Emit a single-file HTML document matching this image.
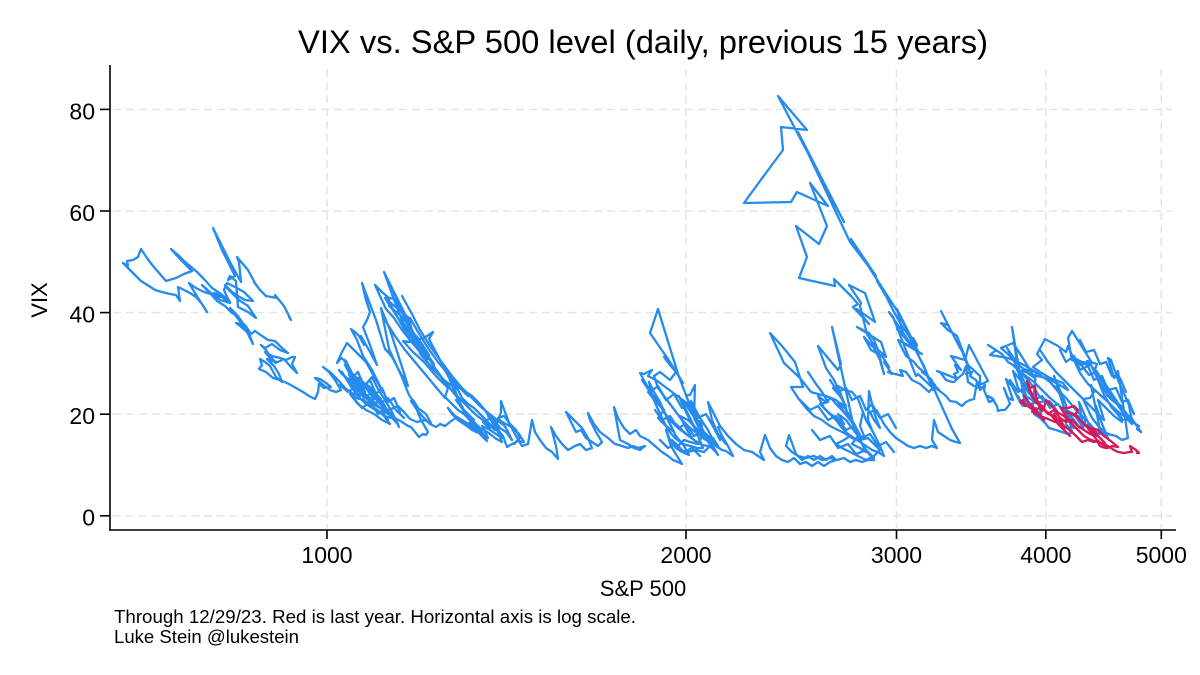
<!DOCTYPE html>
<html>
<head>
<meta charset="utf-8">
<style>
html,body{margin:0;padding:0;background:#fff;}
body{width:1200px;height:675px;overflow:hidden;}
svg{display:block;}
text{font-family:"Liberation Sans",Arial,Helvetica,sans-serif;fill:#000;}
</style>
</head>
<body>
<svg width="1200" height="675" viewBox="0 0 1200 675" xmlns="http://www.w3.org/2000/svg">
<rect width="1200" height="675" fill="#fff"/>
<!-- title -->
<text x="298" y="53" font-size="32" textLength="690" lengthAdjust="spacingAndGlyphs">VIX vs. S&amp;P 500 level (daily, previous 15 years)</text>

<!-- grid -->
<g stroke="#e6e6e6" stroke-width="1.6" stroke-dasharray="8,5" fill="none">
<line x1="113" y1="515.8" x2="1172" y2="515.8"/>
<line x1="113" y1="414.2" x2="1172" y2="414.2"/>
<line x1="113" y1="312.6" x2="1172" y2="312.6"/>
<line x1="113" y1="211" x2="1172" y2="211"/>
<line x1="113" y1="109.4" x2="1172" y2="109.4"/>
<line x1="327" y1="69" x2="327" y2="528"/>
<line x1="686" y1="69" x2="686" y2="528"/>
<line x1="896.5" y1="69" x2="896.5" y2="528"/>
<line x1="1045.8" y1="69" x2="1045.8" y2="528"/>
<line x1="1161.3" y1="69" x2="1161.3" y2="528"/>
</g>

<!-- axes -->
<g stroke="#000" stroke-width="1.6" fill="none">
<line x1="110" y1="65" x2="110" y2="530.8"/>
<line x1="109.2" y1="530" x2="1176" y2="530"/>
<line x1="100" y1="515.8" x2="110" y2="515.8"/>
<line x1="100" y1="414.2" x2="110" y2="414.2"/>
<line x1="100" y1="312.6" x2="110" y2="312.6"/>
<line x1="100" y1="211" x2="110" y2="211"/>
<line x1="100" y1="109.4" x2="110" y2="109.4"/>
<line x1="327" y1="530" x2="327" y2="539"/>
<line x1="686" y1="530" x2="686" y2="539"/>
<line x1="896.5" y1="530" x2="896.5" y2="539"/>
<line x1="1045.8" y1="530" x2="1045.8" y2="539"/>
<line x1="1161.3" y1="530" x2="1161.3" y2="539"/>
</g>

<!-- y tick labels -->
<g font-size="23" text-anchor="end">
<text x="95" y="525.5">0</text>
<text x="95" y="424">20</text>
<text x="95" y="322.4">40</text>
<text x="95" y="220.8">60</text>
<text x="95" y="119.4">80</text>
</g>
<!-- x tick labels -->
<g font-size="23" text-anchor="middle">
<text x="327" y="563">1000</text>
<text x="686" y="563">2000</text>
<text x="896.5" y="563">3000</text>
<text x="1045.8" y="563">4000</text>
<text x="1161.3" y="563">5000</text>
</g>

<!-- axis titles -->
<text x="643" y="596" font-size="22" text-anchor="middle">S&amp;P 500</text>
<text transform="translate(47,300) rotate(-90)" font-size="22" text-anchor="middle">VIX</text>

<!-- footnote -->
<text x="114" y="623" font-size="18" textLength="522" lengthAdjust="spacingAndGlyphs">Through 12/29/23. Red is last year. Horizontal axis is log scale.</text>
<text x="114" y="643" font-size="18" textLength="185" lengthAdjust="spacingAndGlyphs">Luke Stein @lukestein</text>

<!-- blue series -->
<g fill="none" stroke="#268bec" stroke-width="2.3" stroke-linejoin="round" stroke-linecap="round">
<polyline points="289,317 291,320 284,306 275,295 277,298 266,296 260,290 254,282 256,285 248,270 237,257 239,262 241,282 230,262 213,228 222,250 235,276 228,280 230,276 236,281 238,307 248,312 256,318 248,306 239,300 233,294 227,288 225,285 232,292 238,296 245,300 253,301 244,292 235,287 227,283 224,290 227,297 230,302 221,294 212,288 203,278 197,272 190,266 184,261 178,255 171,249 180,259 186,265 192,271 184,274 176,278 166,281 160,274 153,266 147,258 141,249 138,257 133,260 127,261 128,266 123,263 132,272 141,281 149,286 155,290 162,292 170,294 176,295 180,301 178,287 184,290 190,293 196,297 202,304 207,312 200,301 195,293 189,283 196,288 204,292 211,294 218,297 225,297 214,293 222,297 230,303 224,301 220,300 211,293 202,285 209,292 217,301 225,306 232,313 238,316 242,322 246,331 240,326 236,323 246,326 253,344 248,334 242,324 230,308 236,314 242,322 247,328 251,334 255,331"/>
<polyline points="255,331 262,336 268,340 275,341 282,348 288,353 280,350 272,344 265,348 261,345 266,350 270,356 276,363 270,358 265,352 272,356 280,358 286,360 292,357 295,357 292,364 297,373 290,366 284,359 278,362 272,361 267,359 274,366 279,374 282,382 276,377 270,366 265,362 260,359 262,365 259,369 266,372 273,378 280,380 289,384 296,388 303,392 309,396 315,399 318,392 319,384 324,388 331,387 326,383 320,379 315,378 322,384 330,390 336,392 341,390 335,380 329,372 323,367 330,372 338,380 345,388 352,393 360,397 356,391 355,386 348,379 342,374 339,370 346,378 352,388 358,396 366,404 374,409 368,398 360,386 352,375 344,360 348,368 350,378 356,388 362,394 370,398 380,400 376,393 371,390 378,398 382,407 385,417 383,410 382,406"/>
<polyline points="382,406 391,414 396,420 399,427 392,412 385,400 378,389 372,377 366,384 363,391 360,387 359,383 354,381 360,390 366,398 373,404 380,408 388,414 395,418 402,422 408,426 411,427 415,432 419,437 423,434 426,435 428,432 421,420 413,400 417,406 415,404 409,395 401,375 389,349 381,308 390,330 403,370 408,386 400,372 392,357 388,352 385,349 376,320 362,283 366,300 370,312 367,320 363,327 370,345 377,365 370,352 361,336 364,345 359,336 355,332 351,329 357,340 363,356 372,370 378,382 383,392 375,378 366,362 356,352 347,343 342,352 337,363 341,358 346,361 352,373 358,380 365,392 362,386 359,382 366,388 372,396 378,400 385,406 380,398 374,392 370,387 364,383 358,378 352,376 355,380 349,374 355,384 362,392 370,398 376,404 380,408 388,410 394,408 398,406 404,412 410,419 417,422 424,420 431,423 426,414 418,408 411,401 417,410 424,418 430,424 436,427 440,424 445,426"/>
<polyline points="445,426 450,422 457,417 462,422 467,426 472,430 479,433 474,425 468,418 460,405 455,390 450,378 445,367 450,380 455,392 460,405 466,414 472,424 478,432 484,438 487,441 482,432 476,428 470,425 462,420 455,416 448,408 452,414 458,420 464,424 470,428 476,432 480,428 472,420 465,412 457,397 440,376 421,355 420,353 404,312 384,272 396,305 409,338 398,318 385,298 398,309 409,318 412,331 404,315 394,299 386,297 398,318 411,335 420,345 429,355 418,338 408,328 400,320 413,340 421,350 428,359 418,340 410,327 400,315 389,306 389,298 382,292 375,285 386,309 394,318 402,330 410,340 420,352 432,368 444,380 456,389 448,376 440,360 429,339 433,332 424,338 416,340 410,342 403,341 413,352 424,362 436,376 448,388 445,397"/>
<polyline points="445,397 452,404 458,410 464,414 467,417 473,424 478,428 484,430 490,434 495,438 502,442 498,432 491,420 485,410 478,402 472,396 466,392 460,388 455,384 453,380 458,390 462,398 468,404 474,408 480,414 486,420 492,426 498,430 503,436 507,447 512,444 518,441 524,442 519,434 513,428 506,424 499,420 491,418 483,422 489,428 496,426 501,412 501,401 505,412 510,425 516,436 522,446 528,444 532,420 535,432 540,440 546,448 552,452 558,459 556,446 551,427 556,436 562,444 568,450 575,446 580,444 586,450 592,448 588,438 582,428 574,420 566,412 571,422 576,432 581,430 586,438 592,442 598,446 602,442 596,432 590,420 588,413 594,424 600,432 608,438 615,444 622,446 628,448 633,446 638,448 645,446"/>
<polyline points="645,446 640,450 634,448 628,444 620,440 614,407 618,418 624,428 630,434 636,430 640,436 648,440 655,446 662,452 668,456 673,460 678,462 682,464 677,456 671,446 666,430 670,440 676,448 682,452 689,455 684,446 676,436 668,420 660,402 654,392 649,382 652,395 656,405 662,418 668,430 675,438 683,444 690,446 697,448 703,448 698,436 691,420 684,406 679,396 684,408 690,420 696,430 703,438 709,442 703,430 695,416 688,405 684,402 692,414 700,426 706,436 712,448 716,452 718,455 714,448 708,440 702,428 701,420 697,424 702,430 708,436 714,440 718,446 713,438 706,438 695,419 678,374 658,309 650,333 670,362 683,383 676,372 664,357 670,365 676,372 670,380 660,372 654,376 658,388 664,396 670,404 676,412 682,420 690,428 698,434 705,438 714,442 708,430 700,418 691,401 695,412 688,404 680,398 672,392 664,386 656,380 648,376 652,370 644,374 640,373 646,384 652,394 658,402 664,412 670,420 678,428 686,434 694,440 702,445 708,446 712,448 706,438 700,430 694,418 695,385 690,395 686,395 692,410 698,422 704,432 710,440 716,446 722,450 726,451 730,454 733,456 728,446 722,436 718,427 722,436 726,444 718,434 712,420 708,402 714,414 720,426 728,436 736,444 744,450 752,452"/>
<polyline points="752,452 758,456 764,460 760,452 765,435 770,448 776,456 782,460 788,462 794,458 800,464 806,462 812,466 818,462 824,466 830,462 836,460 832,456 826,460 820,456 814,460 808,456 802,460 796,454 789,435 786,446 792,452 798,456 806,458 814,456 822,460 830,458 837,460 844,458 850,462 856,460 862,462 868,460 874,460"/>
<polyline points="874,460 866,450 860,440 854,428 832,327 841,364 838,370 818,346 826,368 834,380 840,392 845,405 848,417 842,410 836,404 831,398 826,402 818,396 824,408 830,414 836,420 842,428 848,434 854,438 860,442 866,446 872,450 878,452 884,456 880,446 873,432 866,420 858,399 852,392 845,390 838,386 833,388 840,396 846,406 838,402 844,412 850,420 856,428 859,433 852,420 845,408 836,400 826,396 818,394 811,392 800,378 784,363 770,333 782,346 795,362 803,387 791,387 798,398 806,408 814,416 822,420 830,426 838,430 846,434"/>
<polyline points="846,434 852,438 858,440 864,436 860,426 863,412 866,420 872,430 868,420 869,391 872,404 876,418 880,428 874,420 870,412 876,410 877,411 884,424 890,432 896,438 902,442 908,446 914,448 920,446 926,448 932,446 937,448 932,440 934,420 938,432 944,436 950,440 956,442 960,443 952,429"/>
<polyline points="952,429 934,389 918,374 916,376 893,317 889,312 912,346 897,329 919,353 900,315 892,303 851,239 876,276 850,242 798,132 844,222 778,96 807,130 781,127 783,150 760,181 744,203 791,202 797,192 828,206 810,183 827,226 819,244 796,226 807,257 799,278 835,286 834,279 851,296 858,304 853,307 869,324 857,309 861,312 875,322 865,293 849,285 861,303 860,306 867,334 875,347 873,345 886,357 881,342 857,327 869,333 874,340 878,350 884,374 880,360 874,348 864,337 871,350 882,356 889,367 884,362 892,374 888,372 895,374 903,376 900,370 906,372 912,380 920,384 929,392 935,385 928,378 928,376 897,309 903,333 907,341 917,345 913,338 918,352 922,354 905,344 910,346 898,340 906,356 914,362 918,367 927,375 922,372 931,379 934,385 939,390 936,388 930,384 941,392 946,396 950,401 956,402 959,404 962,406 966,402 970,400 974,399 977,382 982,384 988,381 969,345 965,360 951,356 961,370 955,365 958,372 954,374 957,379 950,376 937,371 940,372 946,380 952,382 954,382 958,378 963,374 966,366 968,382 974,386 981,389 978,384 976,380 970,376 972,372 966,374 970,372 962,351 960,348 941,311 948,325 941,323 948,330 957,336 968,365 980,376 980,390 985,385 984,390 989,402 994,400 988,396 992,398 997,406 998,411"/>
<polyline points="998,411 1001,410 1005,410 1010,404 1005,391 1004,388 1008,398 1013,400 1006,379 1012,386 1020,402 1023,406 1018,396 1020,400 1027,406 1024,398 1012,327 1017,363 1007,348 1015,363 1023,386 1029,405 1034,410 1038,415 1036,408 1032,412 1036,372 1023,369 1020,374 1033,397 1028,392 1021,381 1013,371 1018,388 1026,396 1032,400 1039,405 1042,419 1038,412 1034,414 1040,418 1046,424 1049,428 1056,430 1062,432 1068,434 1071,433 1066,424 1072,432 1066,405 1054,376 1061,398 1068,420 1074,428 1067,411 1074,420 1080,428 1086,419 1083,428 1079,402 1086,418 1092,430 1100,434 1096,406 1102,424 1108,438 1100,430 1091,385 1094,392 1090,398 1083,399 1092,418 1100,428 1108,434 1116,436 1122,440 1128,438 1118,371 1114,378 1108,358 1111,360 1118,380 1129,405 1132,421 1121,406 1114,400 1124,414 1132,422 1139,426 1137,429 1141,432"/>
<polyline points="1141,432 1130,416 1126,420 1124,414 1116,400 1108,388 1095,369 1097,364 1087,361 1099,375 1108,392 1117,404 1112,400 1107,395 1100,382 1096,372 1089,375 1082,366 1074,358 1082,362 1092,363 1084,350 1072,331 1068,338 1072,360 1082,364 1091,365 1098,380 1104,395 1112,408 1123,420 1116,410 1108,402 1097,392 1088,384 1080,373 1074,360 1068,346 1066,352 1058,346 1045,339 1037,354 1042,360 1033,367 1040,372 1050,378 1063,383 1068,390 1058,384 1046,378 1033,375 1024,360 1013,343 1006,346 1001,348 1010,356 1020,366 1035,378 1026,372 1017,370 1026,376 1034,382 1042,390 1050,398 1062,408 1070,412 1078,416 1085,419 1076,410 1066,398 1054,386 1058,390 1061,395 1050,382 1036,372 1022,364 1008,358 990,355 996,350 988,345 1002,354 1008,362 1013,365 1020,372 1028,380 1034,388 1040,397 1046,402 1052,406 1057,411 1052,404 1049,401 1040,402 1030,404 1022,403 1025,406"/>
<!-- extra density -->
<polyline points="342,372 350,385 356,392 348,380 354,378 362,390 368,398 360,394 366,384 372,392 378,402 370,404 376,410 382,414 388,420 380,412 372,406 364,400 356,398 350,394 358,404 366,410 374,414 382,420 390,424 384,416 392,418 398,424"/>
<polyline points="345,365 352,378 358,372 364,386 370,380 376,394 382,388 388,402 394,398 400,412"/>
<polyline points="340,385 348,392 356,386 364,398 372,392 380,404 388,398 396,410 404,418"/>
<polyline points="355,400 362,408 370,402 378,414 386,408 394,420"/>
<polyline points="395,300 405,318 415,336 425,352 435,368 445,382 455,394 465,404 475,414 485,422 495,430"/>
<polyline points="402,296 412,314 420,330 430,346 440,360 452,376 462,388 472,398 482,408 492,416 502,424"/>
<polyline points="390,285 398,302 406,320 414,334 424,350 434,364"/>
<polyline points="410,318 418,332 428,348 438,362 448,374 458,386 468,396"/>
<polyline points="385,320 395,336 405,350 415,362 425,374 435,386 445,398"/>
<polyline points="456,400 462,408 468,414 474,420 468,424 476,430 482,434 488,438 482,426 490,430 496,434 502,438 496,424 488,416 494,420 500,428 506,432 512,440 506,428 498,418 504,416 510,424 516,430 520,438 514,444"/>
<polyline points="648,392 656,402 664,410 658,418 666,426 674,432 668,420 676,424 684,432 692,438 686,428 680,416 688,420 696,428 702,436 698,444 690,442 684,440 678,446 672,440 680,450 688,452 696,450 704,452 710,446"/>
<polyline points="642,380 650,392 658,386 666,400 674,394 682,408 690,404 698,418 706,414 714,428 720,440"/>
<polyline points="655,410 662,420 670,416 678,428 686,424 694,436 702,432 710,444"/>
<polyline points="660,440 668,448 676,444 684,452 692,448 700,456"/>
<polyline points="808,372 816,384 822,392 828,402 820,404 828,412 836,418 844,424 838,414 846,420 852,428 858,436 852,444 860,448 866,452 860,440 868,438 874,444 880,450 874,456 866,460 858,456 850,452 842,448 836,444 844,440 850,436"/>
<polyline points="800,400 810,410 818,406 828,420 836,416 846,430 854,426 862,438 870,434 878,446 886,442 894,452"/>
<polyline points="812,430 820,440 830,436 838,448 848,444 856,454 866,450 874,458"/>
<polyline points="830,380 838,392 846,388 852,400 860,396 866,410 872,404 880,418 888,414 896,428"/>
<polyline points="1040,350 1048,362 1056,372 1064,380 1072,388 1080,396 1088,404 1096,412 1104,420 1098,400 1106,408 1114,416 1122,422 1116,410 1124,416 1132,424"/>
<polyline points="1060,350 1066,362 1074,356 1080,370 1088,366 1094,380 1102,376 1108,390 1116,388 1122,402 1128,400 1134,414"/>
<polyline points="1010,380 1018,392 1026,388 1034,400 1042,396 1050,408 1058,404 1066,416 1074,414 1082,426 1090,424 1098,434"/>
<polyline points="1080,340 1086,352 1094,350 1100,364 1106,362 1112,376 1120,378 1126,392"/>
<polyline points="877,281 886,296 894,312 902,326 910,338 917,353 924,366 933,390"/>
</g>

<!-- red series (last year) -->
<g fill="none" stroke="#d51a5c" stroke-width="2.3" stroke-linejoin="round" stroke-linecap="round">
<polyline points="1025,406 1023,400 1020,402 1026,405 1032,409 1038,414 1044,420 1040,414 1033,412 1040,416 1048,419 1055,422 1062,420 1069,421 1064,416 1057,412 1052,406 1046,400 1044,408 1042,411 1038,404 1035,401 1030,392 1027,381 1030,388 1035,386 1036,396 1038,403 1044,410 1050,414 1056,418 1061,421 1064,426 1064,429 1060,424 1056,418 1054,414 1058,420 1064,426 1071,431 1076,436 1082,442 1088,440 1094,442 1097,441 1100,446 1102,447 1106,448 1108,448 1112,446 1118,447 1112,442 1104,436 1098,430 1092,428 1098,436 1104,442 1107,447 1102,444 1097,440 1092,434 1087,427 1082,422 1075,415 1078,410 1074,406 1068,408 1061,408 1066,416 1072,424 1078,430 1084,436 1091,440 1098,442 1104,444 1108,446 1114,450 1118,452 1124,453 1130,452 1132,452 1130,446 1136,450 1139,453 1137,453"/>
<polyline points="1024,396 1030,404 1036,410 1042,406 1048,414 1054,410 1060,418 1066,422 1072,420 1078,426 1084,430 1090,434 1096,436 1090,428 1084,424 1078,418 1072,414 1066,412"/>
<polyline points="1028,386 1034,398 1040,404 1046,412 1052,416 1058,424 1064,430 1070,436"/>
</g>
</svg>
</body>
</html>
